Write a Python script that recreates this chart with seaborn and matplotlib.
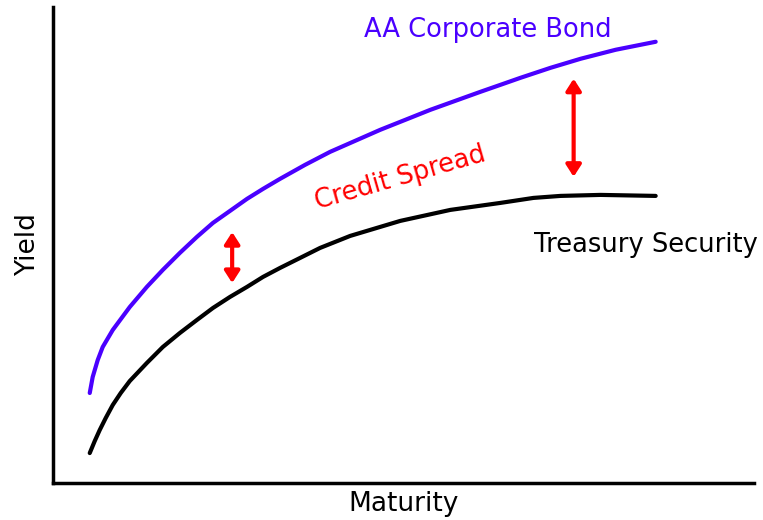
import numpy as np
import pandas as pd
import matplotlib
matplotlib.use('Agg')
import matplotlib.pyplot as plt
import seaborn as sns

# curve points (maturity, yield), arbitrary 0-100 units
corp_maturity = [5.29, 5.71, 6.43, 7.14, 8.57, 11.0, 13.43, 15.71, 18.14, 20.57, 22.86, 25.29,
                 27.71, 30.0, 32.43, 36.0, 39.57, 43.14, 46.71, 50.29, 53.86, 57.43, 61.0,
                 63.86, 66.71, 71.0, 75.29, 80.29, 86.0]
corp_yield = [18.91, 22.27, 25.84, 28.57, 32.14, 36.97, 41.18, 44.75, 48.32, 51.68, 54.62, 57.14,
              59.66, 61.76, 63.87, 66.81, 69.54, 71.85, 74.16, 76.26, 78.36, 80.25, 82.14,
              83.61, 85.08, 87.18, 89.08, 90.97, 92.65]

tsy_maturity = [5.29, 6.0, 6.71, 7.57, 8.57, 9.71, 11.0, 13.43, 15.71, 18.14, 20.57, 22.86,
                25.29, 27.71, 30.0, 32.43, 35.29, 38.14, 42.43, 49.57, 56.71, 63.86, 68.57,
                72.43, 78.14, 86.0]
tsy_yield = [6.3, 8.82, 11.13, 13.66, 16.39, 18.91, 21.43, 25.21, 28.57, 31.51, 34.24, 36.76,
             39.08, 41.18, 43.28, 45.17, 47.27, 49.37, 51.89, 55.04, 57.35, 58.82, 59.87,
             60.29, 60.5, 60.29]

# spread arrows: maturity, low yield, high yield
spread_maturity = [25.6, 74.3]
spread_low = [42.0, 64.3]
spread_high = [52.7, 84.9]

blue = '#4a00ff'
red = '#ff0000'

corp = pd.DataFrame({'maturity': corp_maturity, 'yield': corp_yield})
tsy = pd.DataFrame({'maturity': tsy_maturity, 'yield': tsy_yield})

sns.set_style('white')
plt.rcParams['font.family'] = ['DejaVu Sans']

fig = plt.figure(figsize=(7.63, 5.2), dpi=100)
ax = fig.add_axes([0.069, 0.071, 0.919, 0.916])

sns.lineplot(data=corp, x='maturity', y='yield', color=blue, linewidth=3, ax=ax,
             estimator=None, solid_joinstyle='round')
sns.lineplot(data=tsy, x='maturity', y='yield', color='black', linewidth=3, ax=ax,
             estimator=None, solid_joinstyle='round')

for m, lo, hi in zip(spread_maturity, spread_low, spread_high):
    ax.annotate('', xy=(m, hi), xytext=(m, lo),
                arrowprops=dict(arrowstyle='<|-|>,head_length=0.7,head_width=0.45',
                                color=red, lw=3, shrinkA=0, shrinkB=0))

ax.text(62.0, 95.2, 'AA Corporate Bond', color=blue, fontsize=18.5, ha='center', va='center')
ax.text(84.6, 50.0, 'Treasury Security', color='black', fontsize=18.5, ha='center', va='center')
ax.text(49.6, 64.0, 'Credit Spread', color=red, fontsize=18.5, ha='center', va='center',
        rotation=16, rotation_mode='anchor')

ax.set_xlim(0, 100)
ax.set_ylim(0, 100)
ax.set_xticks([])
ax.set_yticks([])
ax.set_xlabel('Maturity', fontsize=19, labelpad=6, color='black')
ax.set_ylabel('Yield', fontsize=19, labelpad=8, color='black')

sns.despine(ax=ax)
for side in ['left', 'bottom']:
    ax.spines[side].set_linewidth(2.5)
    ax.spines[side].set_color('black')

fig.savefig('out.png', dpi=100)
